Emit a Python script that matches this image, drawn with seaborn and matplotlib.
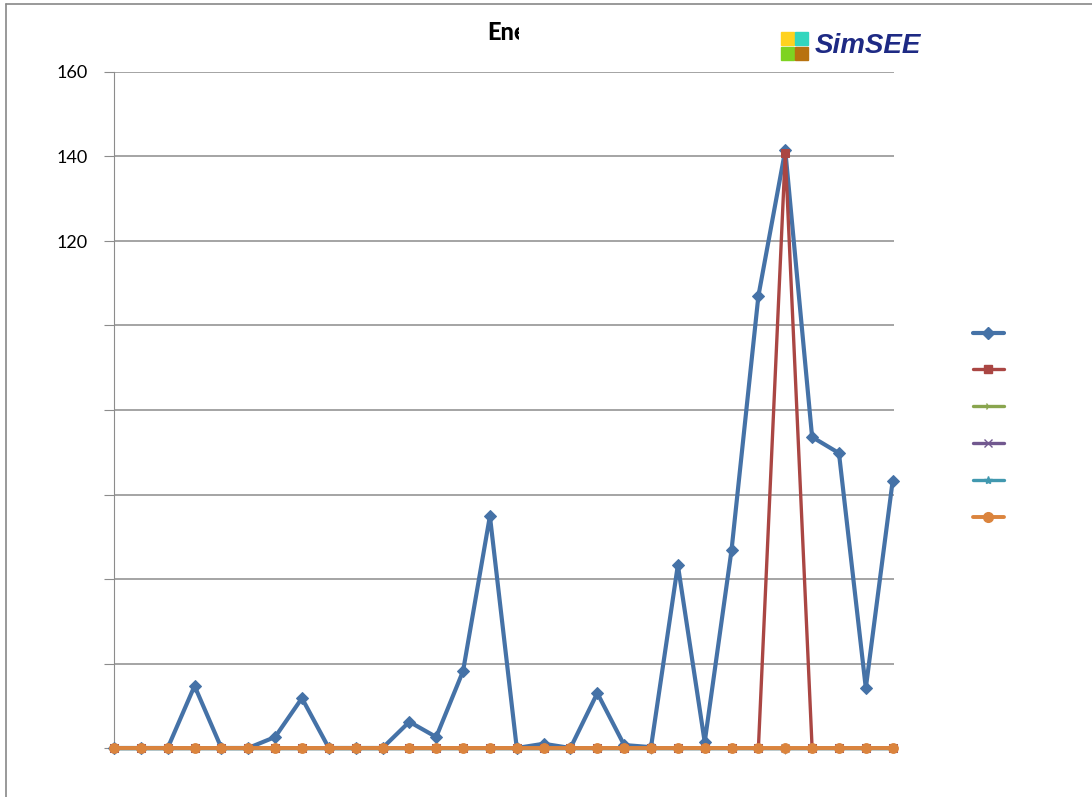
import matplotlib
matplotlib.use("Agg")
import matplotlib.pyplot as plt
from matplotlib.lines import Line2D
from matplotlib.patches import Rectangle
from matplotlib.transforms import Bbox, TransformedBbox
import pandas as pd
import seaborn as sns

# Data (30 steps, y in same units as axis)
steps = list(range(30))
serie_azul = [0, 0, 0, 14.7, 0, 0, 2.6, 11.8, 0, 0, 0, 6.2, 2.6, 18.2, 54.9,
              0, 1.0, 0, 13.0, 0.7, 0.2, 43.3, 1.4, 46.9, 107.0, 141.5, 73.6, 69.8, 14.2, 63.2]
serie_roja = [0] * 25 + [140.8] + [0] * 4
serie_verde = [0] * 30
serie_violeta = [0] * 30
serie_celeste = [0] * 30
serie_naranja = [0] * 30

series = [serie_azul, serie_roja, serie_verde, serie_violeta, serie_celeste, serie_naranja]
colores = ["#4572A7", "#AA4643", "#89A54E", "#71588F", "#4198AF", "#DB843D"]
marcadores = ["D", "s", "4", "x", "*", "o"]
anchos = [3.0, 2.4, 2.4, 2.4, 2.4, 2.8]
tamanos = [6, 6, 6, 6, 6, 7]

sns.set_style("white")
plt.rcParams["font.family"] = ["Lato", "DejaVu Sans"]

fig = plt.figure(figsize=(10.92, 7.97), dpi=100)
ax = fig.add_axes([114 / 1092, 1 - 748 / 797, 780 / 1092, 676 / 797])

for vals, col, mk, lw, ms in zip(series, colores, marcadores, anchos, tamanos):
    df = pd.DataFrame({"paso": steps, "valor": vals})
    sns.lineplot(data=df, x="paso", y="valor", color=col, marker=mk, markersize=ms,
                 markeredgecolor=col, linewidth=lw, ax=ax, zorder=3, clip_on=False)

ax.set_xlim(0, 29.05)
ax.set_ylim(0, 160)
ax.set_yticks(range(0, 161, 20))
ax.set_yticklabels(["", "", "", "", "", "", "120", "140", "160"], fontsize=13, color="black")
ax.set_xticks(range(0, 30, 5))
ax.set_xticklabels([])
ax.set_xlabel("")
ax.set_ylabel("")
ax.grid(axis="y", color="#8c8c8c", linewidth=1.1, zorder=0)
for s in ["top", "right"]:
    ax.spines[s].set_visible(False)
ax.spines["left"].set_color("#8c8c8c")
ax.spines["bottom"].set_color("#8c8c8c")
ax.tick_params(axis="y", length=7, color="#8c8c8c", pad=12, left=True)
ax.tick_params(axis="x", length=4, color="#8c8c8c", direction="out", bottom=True)

# chart area frame
fig.add_artist(Line2D([6 / 1092, 6 / 1092], [0, 1 - 4 / 797], color="#888888", linewidth=1.2))
fig.add_artist(Line2D([6 / 1092, 1], [1 - 4 / 797, 1 - 4 / 797], color="#888888", linewidth=1.2))

# clipped title
t = fig.text(487 / 1092, 1 - 33 / 797, "Energía", fontsize=17, fontweight="black",
             va="center", ha="left", color="black")
t.set_clip_on(True)
t.set_clip_box(TransformedBbox(Bbox([[0, 0], [519 / 1092, 1]]), fig.transFigure))

# SimSEE logo
cuadros = [(781, 32, "#FFD21F"), (795, 32, "#33D6BE"), (781, 47, "#7ED321"), (795, 47, "#B8720F")]
for px, py, c in cuadros:
    fig.add_artist(Rectangle((px / 1092, 1 - (py + 13) / 797), 13 / 1092, 13 / 797,
                             transform=fig.transFigure, color=c))
fig.text(815 / 1092, 1 - 46 / 797, "SimSEE", fontsize=20, fontweight="bold", style="italic",
         color="#1E2A84", family="Liberation Sans", va="center", ha="left")

# legend without labels
handles = [Line2D([], [], color=c, marker=m, markersize=ms, markeredgecolor=c, linewidth=lw)
           for c, m, lw, ms in zip(colores, marcadores, anchos, tamanos)]
fig.legend(handles, [""] * 6, loc="upper left", bbox_to_anchor=(973 / 1092, 1 - 326 / 797),
           frameon=False, fontsize=13, handlelength=1.7, labelspacing=1.15,
           borderpad=0, borderaxespad=0, handletextpad=0)

fig.savefig("out.png", dpi=100)
